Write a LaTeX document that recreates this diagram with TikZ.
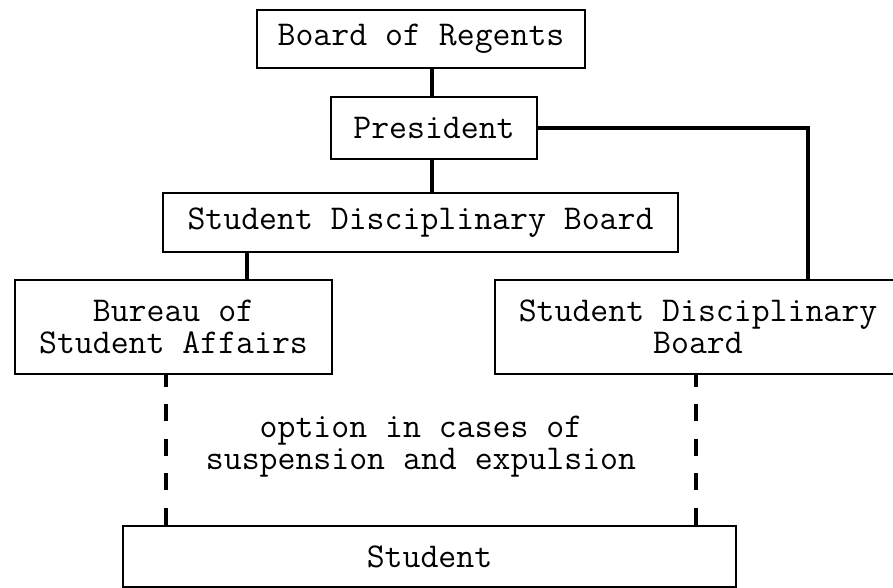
\documentclass[tikz,border=0pt]{standalone}
\usepackage{fontspec}
\newfontfamily\twfam{Latin Modern Mono}
\newcommand\twfont{\twfam\fontsize{34.8}{32}\selectfont}
\begin{document}
\begin{tikzpicture}[x=1pt,y=-1pt,
  box/.style={draw, line width=2.2pt, inner sep=0pt, align=center, font=\twfont},
  link/.style={line width=3.4pt},
  optline/.style={line width=3.4pt, dash pattern=on 17pt off 17.5pt, dash phase=5.5pt}]
\clip (0,0) rectangle (893,588);
\node[box, minimum width=328pt, minimum height=58pt] (reg) at (421,39) {Board of Regents};
\node[box, minimum width=206pt, minimum height=62pt] (pres) at (434,128) {President};
\node[box, minimum width=515pt, minimum height=59pt] (sdb) at (420.5,222.5) {Student Disciplinary Board};
\node[box, minimum width=317pt, minimum height=94pt] (bur) at (173.5,327) {Bureau of\\Student Affairs};
\node[box, minimum width=406pt, minimum height=94pt] (sdbr) at (698,327) {Student Disciplinary\\Board};
\node[box, minimum width=613pt, minimum height=61pt] (stu) at (429.5,556.5) {Student};
\node[font=\twfont, align=center, inner sep=0pt] (opt) at (421,447) {option in cases of\\suspension and expulsion};
\draw[link] ([xshift=11pt]reg.south) -- ([xshift=-2pt]pres.north);
\draw[link] ([xshift=-2pt]pres.south) -- ([xshift=11.5pt]sdb.north);
\draw[link] ([xshift=-173.5pt]sdb.south) -- ([xshift=73.5pt]bur.north);
\draw[link] (pres.east) -| ([xshift=110pt]sdbr.north);
\draw[optline] ([xshift=-7.5pt]bur.south) -- ([xshift=-263.5pt]stu.north);
\draw[optline] ([xshift=-2pt]sdbr.south) -- ([xshift=266.5pt]stu.north);
\end{tikzpicture}
\end{document}
